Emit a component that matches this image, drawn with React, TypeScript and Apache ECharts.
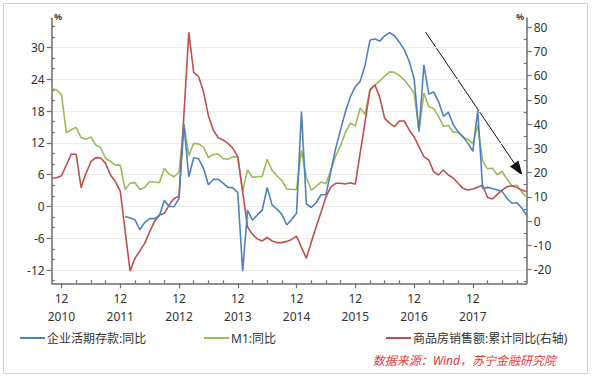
import { useEffect, useRef } from 'react';
import * as echarts from 'echarts';

// Monthly categories: Oct 2010 .. Nov 2018
const START_YEAR = 2010;
const START_MONTH = 10;
const MONTH_COUNT = 98;
const months: string[] = [];
for (let i = 0; i < MONTH_COUNT; i++) {
  const k = START_MONTH - 1 + i;
  months.push(`${START_YEAR + Math.floor(k / 12)}-${String((k % 12) + 1).padStart(2, '0')}`);
}

const seriesNames = ['企业活期存款:同比', 'M1:同比', '商品房销售额:累计同比(右轴)'];

// 企业活期存款:同比 (left axis), starts Jan 2012
const corpDemand: (number | null)[] = [
  null, null, null, null, null, null, null, null, null, null, null, null, null, null, null,
  -1.9, -2.2, -2.5, -4.4, -3.0, -2.3, -2.3, -1.7, 1.1, 0.0, 0.0, 1.5,
  15.4, 5.6, 9.2, 9.0, 7.2, 4.1, 5.1, 5.1, 4.4, 3.6, 3.5, 2.6,
  -12.2, -0.7, -2.6, -1.6, -0.7, 3.6, 0.3, -0.5, -1.5, -3.5, -2.4, -1.3,
  17.9, 0.5, -0.2, 0.7, 2.2, 2.2, 6.6, 11.0, 14.5, 17.9, 20.7, 22.6,
  23.6, 26.7, 31.4, 31.6, 31.2, 32.2, 32.8, 32.2, 31.0, 29.6, 27.4, 24.2,
  14.1, 26.7, 21.2, 21.6, 19.8, 17.0, 17.8, 15.4, 14.1, 13.2, 11.9, 10.4,
  18.1, 3.4, 3.6, 3.4, 3.1, 2.8, 1.5, 0.6, 0.7, -0.3, -1.7,
];

// M1:同比 (left axis)
const m1: number[] = [
  22.2, 22.0, 21.1,
  13.9, 14.5, 14.9, 13.0, 12.7, 13.1, 11.6, 11.1, 9.1, 8.5, 7.8, 7.8,
  3.2, 4.4, 4.5, 3.2, 3.6, 4.7, 4.6, 4.5, 7.2, 6.1, 5.6, 6.5,
  15.6, 9.6, 11.9, 11.8, 11.2, 9.2, 9.8, 9.9, 9.0, 8.9, 9.4, 9.3,
  2.8, 6.9, 5.5, 5.6, 5.7, 8.9, 6.8, 5.8, 4.9, 3.3, 3.2, 3.2,
  10.6, 5.5, 3.1, 3.8, 4.6, 4.3, 6.8, 9.5, 11.5, 14.0, 15.7, 15.2,
  18.6, 17.4, 22.1, 22.9, 23.7, 24.6, 25.4, 25.3, 24.7, 23.9, 22.7, 21.4,
  14.3, 21.4, 18.8, 18.5, 17.0, 15.1, 15.3, 14.0, 14.0, 13.0, 12.7, 11.8,
  15.4, 8.6, 7.1, 7.2, 6.0, 6.6, 5.1, 3.9, 4.0, 2.7, 1.8,
];

// 商品房销售额:累计同比 (right axis), no January readings
const housingSales: (number | null)[] = [
  17.7, 17.9, 18.7,
  null, 27.6, 27.6, 13.8, 19.7, 24.5, 26.2, 26.0, 23.8, 19.0, 16.3, 12.4,
  null, -20.6, -15.4, -12.3, -9.2, -4.4, -0.2, 2.5, 3.2, 6.6, 9.4, 10.1,
  null, 77.9, 61.4, 59.6, 53.4, 43.5, 37.6, 34.4, 33.5, 32.1, 30.0, 26.6,
  null, -2.5, -5.5, -7.4, -8.2, -6.8, -8.2, -8.9, -8.9, -8.4, -7.6, -6.2,
  null, -15.4, -8.8, -2.5, 3.6, 10.0, 14.0, 15.6, 15.6, 15.3, 15.8, 15.2,
  null, 41.0, 54.0, 56.2, 51.0, 42.4, 40.4, 39.0, 41.3, 41.3, 37.6, 34.8,
  null, 26.6, 25.2, 20.4, 19.0, 21.1, 19.0, 17.7, 15.6, 13.5, 12.8, 13.2,
  null, 14.8, 9.8, 9.1, 11.0, 12.8, 14.2, 14.6, 13.8, 12.8, 12.1,
];

const leftTicks = [-12, -6, 0, 6, 12, 18, 24, 30];
const leftMinorTicks = [-14, -10, -8, -4, -2, 2, 4, 8, 10, 14, 16, 20, 22, 26, 28, 32, 34];
const rightTicks = [-20, -10, 0, 10, 20, 30, 40, 50, 60, 70, 80];
const rightMinorTicks = [-25, -15, -5, 5, 15, 25, 35, 45, 55, 65, 75];

const FONT = '"Noto Sans", "Noto Sans CJK SC", sans-serif';
const AXIS_COLOR = '#6e6e6e';
const TEXT_COLOR = '#333333';
const COLORS = ['#4F81BD', '#9BBB59', '#C0504D'];

const isDec = (_i: number, v: string) => v.endsWith('-12');
const isQuarter = (_i: number, v: string) => {
  const m = Number(v.slice(5));
  return m % 3 === 0 && m !== 12;
};

export default function App() {
  const ref = useRef<HTMLDivElement>(null);
  useEffect(() => {
    if (!ref.current) return;
    const chart = echarts.init(ref.current, undefined, { renderer: 'svg' });
    const L = { min: -14.5, max: 35.5 };
    const R = { min: -25.7, max: 83.7 };
    const option: any = {
      animation: false,
      backgroundColor: '#ffffff',
      textStyle: { fontFamily: FONT },
      color: COLORS,
      grid: { left: 51.7, right: 65.3, top: 18.3, bottom: 95.7, containLabel: false, outerBoundsMode: 'none' },
      legend: [0, 1, 2].map((k) => ({
        data: [seriesNames[k]],
        left: [20, 204, 386][k],
        top: 332,
        padding: 0,
        icon: 'rect',
        itemWidth: 25,
        itemHeight: 2,
        itemGap: 0,
        textStyle: { fontSize: 12, color: TEXT_COLOR, fontFamily: FONT, padding: [0, 0, 0, -3] },
      })),
      xAxis: [
        {
          type: 'category',
          data: months,
          boundaryGap: false,
          position: 'bottom',
          axisLine: { onZero: false, lineStyle: { color: AXIS_COLOR, width: 1.5 } },
          axisTick: { show: true, interval: isDec, length: 5, lineStyle: { color: AXIS_COLOR, width: 1.2 } },
          axisLabel: {
            interval: isDec,
            formatter: (v: string) => `12\n${v.slice(0, 4)}`,
            color: TEXT_COLOR,
            fontSize: 12,
            lineHeight: 18,
            margin: 6,
            fontFamily: FONT,
          },
          splitLine: { show: false },
        },
        {
          type: 'category',
          data: months,
          boundaryGap: false,
          position: 'bottom',
          axisLine: { show: false, onZero: false },
          axisTick: { show: true, inside: true, interval: isQuarter, length: 3, lineStyle: { color: AXIS_COLOR, width: 1.2 } },
          axisLabel: { show: false },
          splitLine: { show: false },
        },
      ],
      yAxis: [
        {
          type: 'value',
          position: 'left',
          min: L.min,
          max: L.max,
          axisLine: { show: true, lineStyle: { color: AXIS_COLOR, width: 1.5 } },
          axisTick: { show: true, customValues: leftTicks, length: 5, lineStyle: { color: AXIS_COLOR, width: 1.2 } },
          axisLabel: { customValues: leftTicks, color: TEXT_COLOR, fontSize: 12, margin: 7, fontFamily: FONT },
          splitLine: { show: true, lineStyle: { color: '#ececec', width: 1 } },
        },
        {
          type: 'value',
          position: 'right',
          min: R.min,
          max: R.max,
          axisLine: { show: true, lineStyle: { color: AXIS_COLOR, width: 1.5 } },
          axisTick: { show: true, customValues: rightTicks, length: 5, lineStyle: { color: AXIS_COLOR, width: 1.2 } },
          axisLabel: { customValues: rightTicks, color: TEXT_COLOR, fontSize: 12, margin: 7, fontFamily: FONT },
          splitLine: { show: false },
        },
        {
          type: 'value',
          position: 'left',
          min: L.min,
          max: L.max,
          axisLine: { show: false },
          axisTick: { show: true, inside: true, customValues: leftMinorTicks, length: 3, lineStyle: { color: AXIS_COLOR, width: 1.2 } },
          axisLabel: { show: false },
          splitLine: { show: false },
        },
        {
          type: 'value',
          position: 'right',
          min: R.min,
          max: R.max,
          axisLine: { show: false },
          axisTick: { show: true, inside: true, customValues: rightMinorTicks, length: 3, lineStyle: { color: AXIS_COLOR, width: 1.2 } },
          axisLabel: { show: false },
          splitLine: { show: false },
        },
      ],
      series: [
        {
          name: seriesNames[1], type: 'line', data: m1, yAxisIndex: 0, showSymbol: false, symbol: 'none',
          lineStyle: { width: 1.6, color: COLORS[1] }, itemStyle: { color: COLORS[1] }, z: 2,
        },
        {
          name: seriesNames[2], type: 'line', data: housingSales, yAxisIndex: 1, connectNulls: true, showSymbol: false, symbol: 'none',
          lineStyle: { width: 1.6, color: COLORS[2] }, itemStyle: { color: COLORS[2] }, z: 3,
        },
        {
          name: seriesNames[0], type: 'line', data: corpDemand, yAxisIndex: 0, showSymbol: false, symbol: 'none',
          lineStyle: { width: 1.6, color: COLORS[0] }, itemStyle: { color: COLORS[0] }, z: 4,
        },
      ],
      graphic: [
        { type: 'rect', shape: { x: 3.5, y: 3.5, width: 584, height: 370 }, style: { fill: 'none', stroke: '#d2d2d2', lineWidth: 1 }, silent: true },
        { type: 'text', x: 54, y: 12, style: { text: '%', fontSize: 9, fontWeight: 'bold', fill: '#444', fontFamily: FONT } },
        { type: 'text', x: 516, y: 12, style: { text: '%', fontSize: 9, fontWeight: 'bold', fill: '#444', fontFamily: FONT } },
        { type: 'line', shape: { x1: 425.5, y1: 32, x2: 514.5, y2: 163.5 }, style: { stroke: '#111', lineWidth: 1 } },
        { type: 'polygon', shape: { points: [[522.5, 175.5], [510, 166.5], [518.5, 160.5]] }, style: { fill: '#111' } },
        {
          type: 'text', x: 556, y: 354,
          style: { text: '数据来源：Wind，苏宁金融研究院', fontSize: 12, fontStyle: 'italic', fill: '#e5383b', textAlign: 'right', fontFamily: FONT },
        },
      ],
    };
    chart.setOption(option);
    return () => chart.dispose();
  }, []);
  return <div ref={ref} style={{ position: 'absolute', left: 0, top: 0, width: 592, height: 379 }} />;
}
